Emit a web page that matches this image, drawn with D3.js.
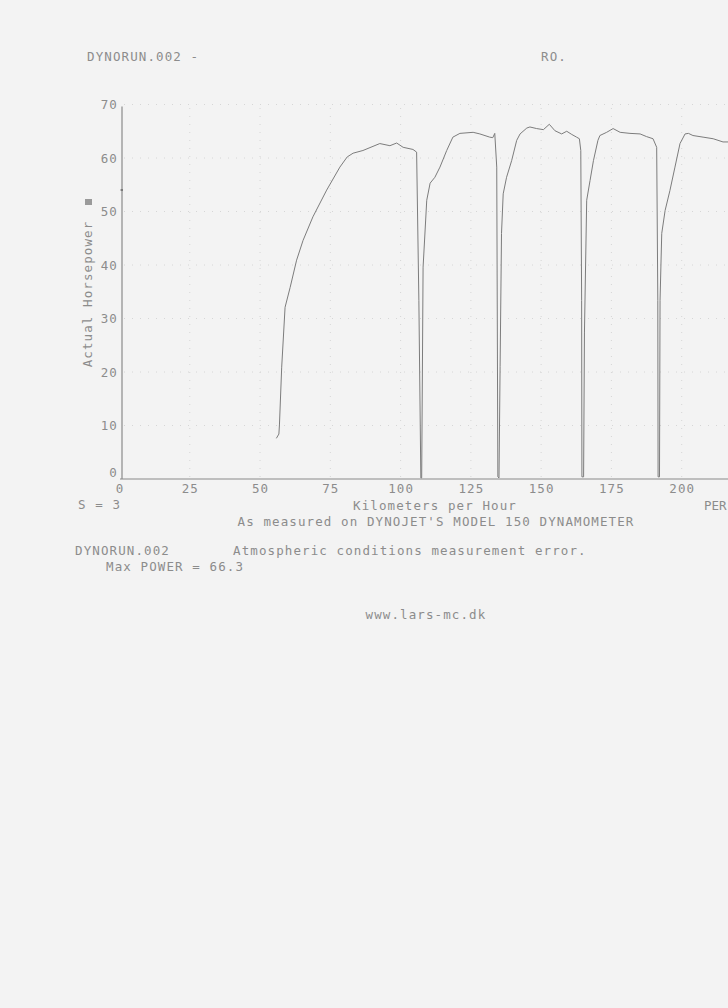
<!DOCTYPE html>
<html>
<head>
<meta charset="utf-8">
<script src="https://cdn.jsdelivr.net/npm/d3@7"></script>
<style>
  html, body { margin: 0; padding: 0; background: #f3f3f3; overflow: hidden; }
  text { font-family: "DejaVu Sans Mono", monospace; fill: #8c8c8c; letter-spacing: 1.1px; }
</style>
</head>
<body>
<div id="chart"></div>
<script>
// five dyno pulls, speed in km/h and actual horsepower
const run1Speed = [55.8, 56.7, 56.9, 57.7, 58.9, 60.7, 63.0, 65.3, 68.8, 73.7, 78.4, 81.0, 83.1, 86.6, 92.6, 96.2, 98.6, 100.9, 104.4, 105.7, 106.5, 107.2];
const run1Power = [7.6, 8.4, 10.1, 20.9, 32.1, 35.8, 40.9, 44.6, 49.0, 54.0, 58.3, 60.2, 60.9, 61.4, 62.7, 62.3, 62.8, 62.0, 61.6, 61.1, 33.4, 0.2];
const run2Speed = [107.5, 108.0, 109.3, 110.5, 112.2, 114.0, 116.4, 118.6, 121.1, 125.8, 128.2, 131.7, 132.8, 133.5, 134.2, 134.6];
const run2Power = [0.2, 39.6, 52.1, 55.3, 56.4, 58.3, 61.4, 63.9, 64.6, 64.8, 64.5, 63.9, 63.8, 64.6, 58.3, 0.4];
const run3Speed = [135.0, 135.4, 135.9, 136.5, 137.7, 139.5, 141.3, 142.5, 144.9, 146.0, 148.4, 150.8, 152.9, 154.9, 157.3, 159.1, 160.9, 162.6, 163.6, 164.1, 164.4, 164.5];
const run3Power = [0.2, 21.0, 45.9, 53.3, 56.4, 59.5, 63.3, 64.5, 65.6, 65.8, 65.5, 65.3, 66.3, 65.1, 64.5, 65.0, 64.4, 63.9, 63.6, 61.4, 33.4, 0.4];
const run4Speed = [165.1, 165.4, 166.2, 167.4, 168.6, 170.2, 170.9, 173.3, 175.6, 178.1, 181.6, 185.2, 187.5, 189.8, 191.1, 191.5, 191.6];
const run4Power = [0.4, 27.3, 52.1, 55.8, 59.5, 63.3, 64.2, 64.8, 65.5, 64.8, 64.6, 64.5, 64.0, 63.6, 62.0, 33.4, 0.4];
const run5Speed = [192.1, 192.3, 192.9, 194.1, 195.8, 197.6, 199.4, 201.2, 202.4, 204.0, 207.6, 211.2, 214.7, 216.5, 221.0];
const run5Power = [0.4, 33.4, 45.9, 50.2, 53.9, 58.3, 62.7, 64.5, 64.6, 64.2, 63.9, 63.6, 63.0, 63.0, 62.7];

const xTicks = [0, 25, 50, 75, 100, 125, 150, 175, 200];
const yTicks = [0, 10, 20, 30, 40, 50, 60, 70];

const width = 728, height = 1008;

const svg = d3.select("#chart").append("svg")
    .attr("width", width)
    .attr("height", height);

svg.append("rect").attr("width", width).attr("height", height).attr("fill", "#f3f3f3");

const x = d3.scaleLinear().domain([0, 200]).range([119.5, 681.7]);
const y = d3.scaleLinear().domain([0, 70]).range([479, 104.5]);

// dotted grid
svg.append("g").selectAll("line")
  .data(yTicks.slice(1))
  .enter().append("line")
    .attr("x1", 124).attr("x2", width)
    .attr("y1", d => y(d)).attr("y2", d => y(d))
    .attr("stroke", "#d6d6d6").attr("stroke-dasharray", "1,7");
svg.append("g").selectAll("line")
  .data(xTicks.slice(1).concat([225]))
  .enter().append("line")
    .attr("x1", d => x(d)).attr("x2", d => x(d))
    .attr("y1", 108).attr("y2", 477)
    .attr("stroke", "#d6d6d6").attr("stroke-dasharray", "1,7");

// axes
svg.append("line").attr("x1", 122).attr("x2", 122).attr("y1", 106.5).attr("y2", 479)
  .attr("stroke", "#8a8a8a").attr("stroke-width", 1.2);
svg.append("line").attr("x1", 120).attr("x2", width).attr("y1", 479).attr("y2", 479)
  .attr("stroke", "#8a8a8a").attr("stroke-width", 1.2);
svg.append("line").attr("x1", 120.5).attr("x2", 123).attr("y1", 190).attr("y2", 190)
  .attr("stroke", "#555").attr("stroke-width", 1.2);

const xAxis = svg.append("g")
  .attr("transform", "translate(0,479)")
  .call(d3.axisBottom(x).tickValues(xTicks).tickSize(0).tickPadding(5).tickFormat(d3.format("d")));
xAxis.select(".domain").remove();
xAxis.selectAll("text").style("font-size", "12.5px").style("font-family", null).attr("fill", null);

const yAxis = svg.append("g")
  .attr("transform", "translate(120,0)")
  .call(d3.axisLeft(y).tickValues(yTicks).tickSize(0).tickPadding(2).tickFormat(d3.format("d")));
yAxis.select(".domain").remove();
yAxis.selectAll("text").style("font-size", "12.5px").style("font-family", null).attr("fill", null)
  .attr("dy", d => d === 0 ? "-0.2em" : "0.32em");

// the power curve
const pts = [];
[[run1Speed, run1Power], [run2Speed, run2Power], [run3Speed, run3Power],
 [run4Speed, run4Power], [run5Speed, run5Power]].forEach(r => {
  r[0].forEach((s, i) => pts.push([s, r[1][i]]));
});

const line = d3.line()
  .x(d => x(d[0]))
  .y(d => y(d[1]))
  .curve(d3.curveLinear);

svg.append("path")
  .datum(pts)
  .attr("d", line)
  .attr("fill", "none")
  .attr("stroke", "#7c7c7c")
  .attr("stroke-width", 1);

// labels
function label(txt, px, py, anchor, size) {
  return svg.append("text")
    .attr("x", px).attr("y", py)
    .attr("text-anchor", anchor || "start")
    .style("font-size", (size || 12.5) + "px")
    .text(txt);
}

label("DYNORUN.002 -", 87, 61);
label("RO.", 541, 61);
label("S = 3", 78, 509);
label("Kilometers per Hour", 435, 510, "middle");
label("PER", 704, 510).style("letter-spacing", "0px");
label("As measured on DYNOJET'S MODEL 150 DYNAMOMETER", 436, 526, "middle");
label("DYNORUN.002", 75, 555);
label("Atmospheric conditions measurement error.", 233, 555);
label("Max POWER = 66.3", 106, 571);
label("www.lars-mc.dk", 426, 619, "middle");

svg.append("text")
  .attr("transform", "translate(92,294) rotate(-90)")
  .attr("text-anchor", "middle")
  .style("font-size", "12.5px")
  .text("Actual Horsepower");
svg.append("rect")
  .attr("x", 85).attr("y", 199).attr("width", 7).attr("height", 6)
  .attr("fill", "#9a9a9a");
</script>
</body>
</html>
